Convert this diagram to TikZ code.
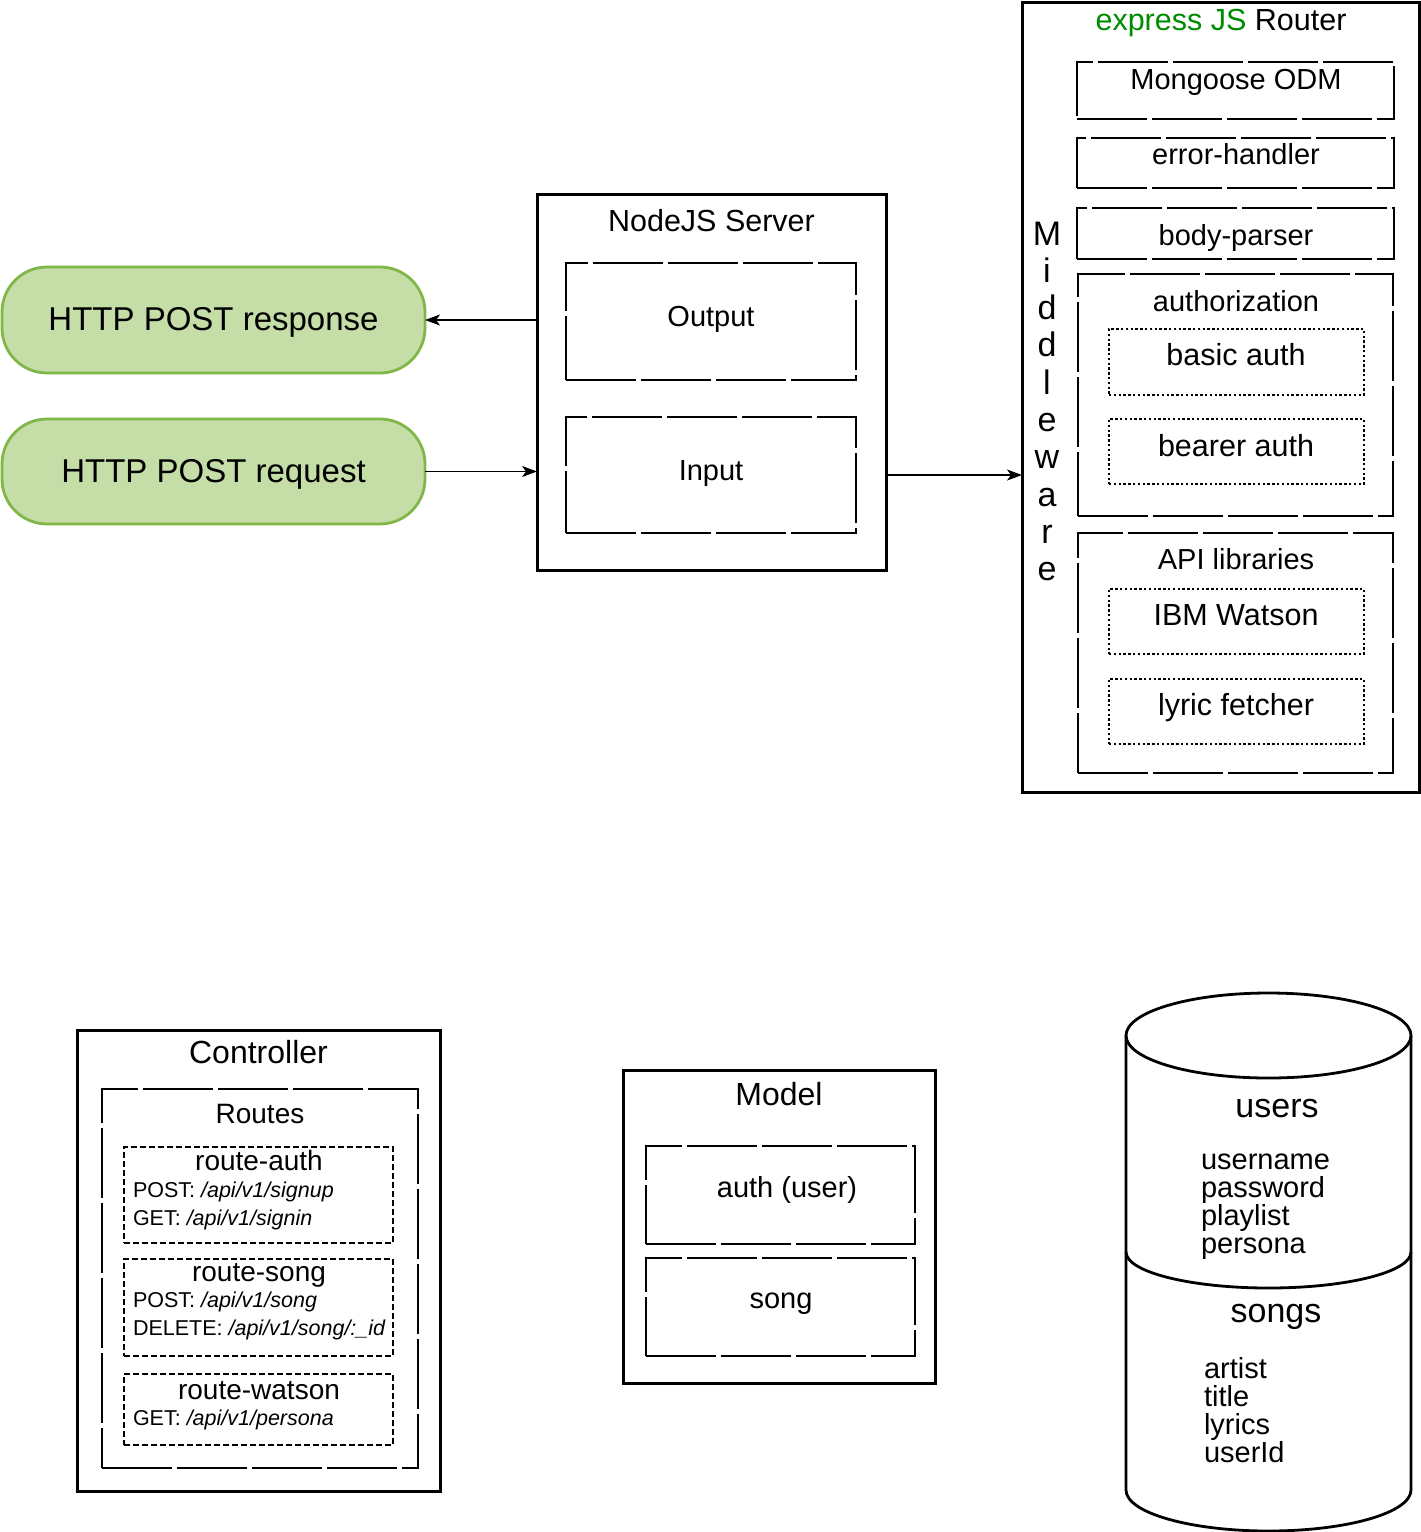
\documentclass[tikz,border=0pt]{standalone}
\usepackage{fontspec}
\setmainfont{Liberation Sans}
\usetikzlibrary{arrows.meta}
\definecolor{pillfill}{RGB}{197,222,168}
\definecolor{pillline}{RGB}{128,183,72}
\definecolor{expgreen}{RGB}{0,140,0}
\newcommand\bx[6]{\node[#1, minimum width={#4-#2}, minimum height={#5-#3}] (#6) at ({(#2+#4)/2},{(#3+#5)/2}) {};}
\begin{document}
\begin{tikzpicture}[x=1pt,y=-1pt,
  every node/.style={inner sep=0pt, outer sep=0pt},
  solidbox/.style={draw, line width=3pt},
  ldash/.style={draw, line width=2.7pt, dash pattern=on 70pt off 5pt},
  dotb/.style={draw, line width=2.6pt, dash pattern=on 2.4pt off 2.4pt},
  sdash/.style={draw, line width=2.7pt, dash pattern=on 6pt off 3pt},
  pill/.style={draw=pillline, fill=pillfill, line width=2.8pt, rounded corners=45pt},
  tb/.style={anchor=base},
  tl/.style={anchor=base west},
  f21/.style={font=\fontsize{21.5}{25}\selectfont},
  f28/.style={font=\fontsize{28}{33}\selectfont},
  f29/.style={font=\fontsize{29}{34}\selectfont},
  f30/.style={font=\fontsize{30.5}{36}\selectfont},
  f31/.style={font=\fontsize{30.5}{36}\selectfont},
  f32/.style={font=\fontsize{32}{38}\selectfont},
  f33/.style={font=\fontsize{33}{39}\selectfont},
  f34/.style={font=\fontsize{34}{40}\selectfont},
  arr/.style={line width=1.2pt, -{Stealth[length=15pt, width=11pt, inset=4pt]}}
]
\useasboundingbox (0,0) rectangle (1421,1532);

% HTTP pills
\bx{pill}{2}{267}{425}{373}{resp}
\bx{pill}{2}{419}{425}{524}{req}
\node[tb,f33] (resp-t) at (213.5,330) {HTTP POST response};
\node[tb,f33] (req-t) at (213.5,482) {HTTP POST request};

% NodeJS server
\bx{solidbox}{537}{194}{886}{570}{nodejs}
\bx{ldash}{566}{263}{856}{380}{output}
\bx{ldash}{566}{417}{856}{533}{input}
\node[tb,f30] (nodejs-t) at (711.5,231) {NodeJS Server};
\node[tb,f29] (output-t) at (711,326) {Output};
\node[tb,f29] (input-t) at (711,480) {Input};

% express router
\bx{solidbox}{1022}{2}{1419}{792}{express}
\node[tb,f30] (express-t) at (1221,30) {\textcolor{expgreen}{express JS} Router};
\bx{ldash}{1077}{62}{1394}{119}{mongoose}
\bx{ldash}{1077}{138}{1394}{188}{errh}
\bx{ldash}{1077}{208}{1394}{259}{bodyp}
\bx{ldash}{1078}{274}{1393}{516}{authz}
\bx{dotb}{1109}{329}{1364}{395}{basic}
\bx{dotb}{1109}{419}{1364}{484}{bearer}
\bx{ldash}{1078}{533}{1393}{773}{apilib}
\bx{dotb}{1109}{589}{1364}{654}{watson}
\bx{dotb}{1109}{679}{1364}{744}{lyric}
\node[tb,f29] (mongoose-t) at (1236,89) {Mongoose ODM};
\node[tb,f29] (errh-t) at (1236,164) {error-handler};
\node[tb,f29] (bodyp-t) at (1236,245) {body-parser};
\node[tb,f29] (authz-t) at (1236,311) {authorization};
\node[tb,f31] (basic-t) at (1236,365) {basic auth};
\node[tb,f31] (bearer-t) at (1236,456) {bearer auth};
\node[tb,f29] (apilib-t) at (1236,569) {API libraries};
\node[tb,f31] (watson-t) at (1236,625) {IBM Watson};
\node[tb,f31] (lyric-t) at (1236,715) {lyric fetcher};
\foreach \ch [count=\i from 0] in {M,i,d,d,l,e,w,a,r,e}
  \node[tb,f34] (mw\i) at (1047,{245+37.3*\i}) {\ch};

% connectors
\draw[arr] (nodejs.west |- resp.east) -- (resp.east);
\draw[arr] (req.east) -- (nodejs.west |- req.east);
\draw[arr] (nodejs.east |- input.center) -- (express.west |- input.center);

% Controller
\bx{solidbox}{77}{1030}{440}{1491}{controller}
\bx{ldash}{102}{1089}{418}{1468}{routes}
\bx{sdash}{124}{1147}{393}{1243}{rauth}
\bx{sdash}{124}{1259}{393}{1356}{rsong}
\bx{sdash}{124}{1374}{393}{1445}{rwatson}
\node[tb,f32] (controller-t) at (258.5,1063) {Controller};
\node[tb,f28] (routes-t) at (260,1123) {Routes};
\node[tb,f28] (rauth-t) at (259,1170) {route-auth};
\node[tl,f21] (rauth-l1) at (133,1197) {POST: \textit{/api/v1/signup}};
\node[tl,f21] (rauth-l2) at (133,1225) {GET: \textit{/api/v1/signin}};
\node[tb,f28] (rsong-t) at (259,1281) {route-song};
\node[tl,f21] (rsong-l1) at (133,1307) {POST: \textit{/api/v1/song}};
\node[tl,f21] (rsong-l2) at (133,1335) {DELETE: \textit{/api/v1/song/:\_id}};
\node[tb,f28] (rwatson-t) at (259,1399) {route-watson};
\node[tl,f21] (rwatson-l1) at (133,1425) {GET: \textit{/api/v1/persona}};

% Model
\bx{solidbox}{623}{1070}{935}{1383}{model}
\bx{ldash}{646}{1146}{915}{1244}{mauth}
\bx{ldash}{646}{1258}{915}{1356}{msong}
\node[tb,f32] (model-t) at (779,1105) {Model};
\node[tb,f29] (mauth-t) at (787,1197) {auth (user)};
\node[tb,f29] (msong-t) at (781,1308) {song};

% Database cylinder
\coordinate (db) at (1268.5,1035.5);
\draw[line width=2.8pt] (1126,1035.5) -- (1126,1490)
  arc[start angle=180, end angle=0, x radius=142.5, y radius=41]
  -- (1411,1035.5);
\draw[line width=2.8pt] (db) ellipse [x radius=142.5, y radius=42.5];
\draw[line width=2.8pt] (1126,1252) arc[start angle=180, end angle=0, x radius=142.5, y radius=36];
\node[tb,f34] (users-t) at (1277,1117) {users};
\node[tl,f29] (u1) at (1201,1169) {username};
\node[tl,f29] (u2) at (1201,1197) {password};
\node[tl,f29] (u3) at (1201,1225) {playlist};
\node[tl,f29] (u4) at (1201,1253) {persona};
\node[tb,f34] (songs-t) at (1276,1322) {songs};
\node[tl,f29] (s1) at (1204,1378) {artist};
\node[tl,f29] (s2) at (1204,1406) {title};
\node[tl,f29] (s3) at (1204,1434) {lyrics};
\node[tl,f29] (s4) at (1204,1462) {userId};
\end{tikzpicture}
\end{document}
